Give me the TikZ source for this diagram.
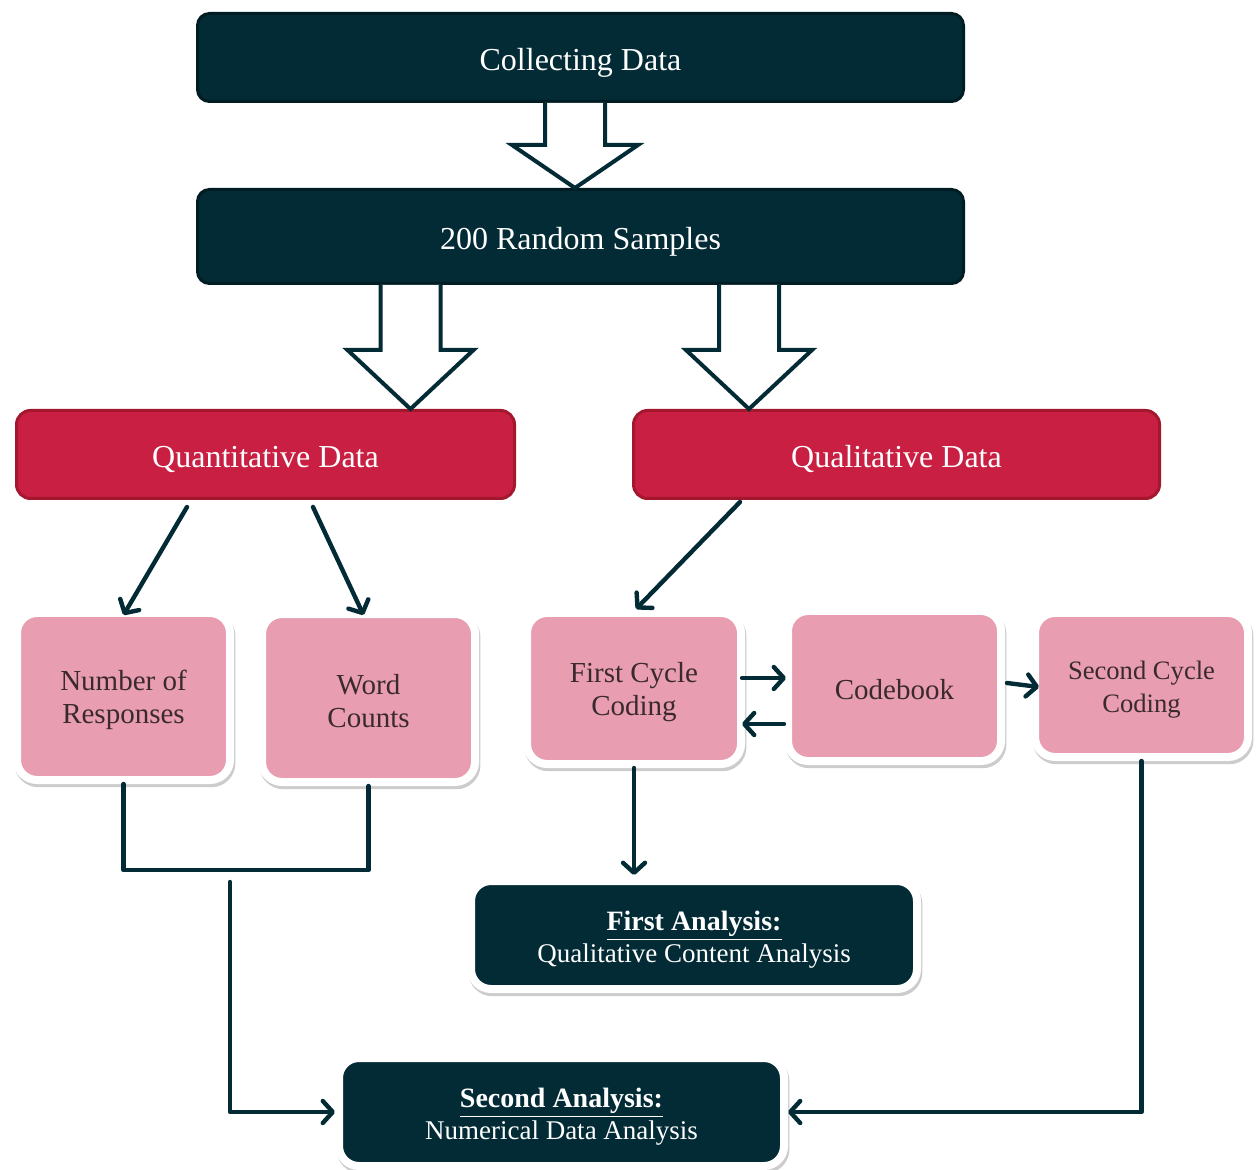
\documentclass[tikz,border=0pt]{standalone}
\usepackage{fontspec}
\setmainfont{Liberation Serif}
\usetikzlibrary{arrows.meta,calc}
\definecolor{dteal}{HTML}{032B36}
\definecolor{dteal2}{HTML}{011D24}
\definecolor{crim}{HTML}{C81F42}
\definecolor{crim2}{HTML}{A3182F}
\definecolor{pinkb}{HTML}{E89DB0}
\definecolor{ptext}{HTML}{3A2A2F}
\newcommand\myblockarrow[3]{\draw[barrow] ($(#1)+(-30,0)$) -- ++(0,#2) -- ++(-33,0) -- ($(#1)+(0,#3)$) -- ($(#1)+(63,#2)$) -- ++(-33,0) -- ($(#1)+(30,0)$);}
\newcommand\mypstrut{\rule{0pt}{13.5pt}}
\newcommand\myastrut{\rule{0pt}{14.6pt}}
\begin{document}
\begin{tikzpicture}[x=0.5pt,y=-0.5pt,
  hdr/.style={fill=dteal, draw=dteal2, line width=1.5pt, rounded corners=6pt, text=white, font=\fontsize{16}{19}\selectfont, inner sep=0pt, execute at begin node={\rule{0pt}{16pt}}},
  redbox/.style={fill=crim, draw=crim2, line width=1.5pt, rounded corners=7pt, text=white, font=\fontsize{16}{19}\selectfont, inner sep=0pt, execute at begin node={\rule{0pt}{16pt}}},
  pinkbox/.style={fill=pinkb, draw=white, line width=4pt, rounded corners=10pt, text=ptext, align=center, inner sep=0pt,
    font=\fontsize{14.5}{16.5}\selectfont,
    preaction={draw=black!20, fill=black!20, line width=4pt, transform canvas={xshift=0.7pt,yshift=-1.6pt}}},
  anal/.style={pinkbox, fill=dteal, text=white, font=\fontsize{13.5}{16}\selectfont},
  barrow/.style={draw=dteal, fill=white, line width=2pt, line join=miter},
  conn/.style={draw=dteal, line width=2.2pt, line cap=round, line join=round, -{Straight Barb[round,length=5pt,width=11pt]}},
  lin/.style={draw=dteal, line width=2.2pt, line cap=round, line join=round}]
\useasboundingbox (0,0) rectangle (1258,1170);
\fill[white] (0,0) rectangle (1258,1170);

% header boxes
\node[hdr, minimum width=383pt, minimum height=44pt] (cd) at (580.5,57.5) {Collecting Data};
\node[hdr, minimum width=383pt, minimum height=47pt] (rs) at (580.5,236.5) {200 Random Samples};
\node[redbox, minimum width=249pt, minimum height=44pt] (quant) at (265.5,454.5) {Quantitative Data};
\node[redbox, minimum width=263pt, minimum height=44pt] (qual) at (896.5,454.5) {Qualitative Data};

% pink boxes
\node[pinkbox, minimum width=106.5pt, minimum height=83.5pt] (nr) at (123.5,696.5) {\mypstrut Number of\\Responses};
\node[pinkbox, minimum width=106.5pt, minimum height=84pt] (wc) at (368.5,698) {\mypstrut Word\\Counts};
\node[pinkbox, minimum width=107pt, minimum height=75.5pt] (fcc) at (634,688.5) {\mypstrut First Cycle\\Coding};
\node[pinkbox, minimum width=106.5pt, minimum height=75pt] (cb) at (894.5,686) {\mypstrut Codebook};
\node[pinkbox, minimum width=106.5pt, minimum height=72pt, font=\fontsize{13.3}{16.5}\selectfont] (scc) at (1141.5,685) {\mypstrut Second Cycle\\Coding};

% analysis boxes
\node[anal, minimum width=223pt, minimum height=54pt] (fa) at (694,935) {\myastrut\underline{\textbf{\fontsize{14}{16}\selectfont First Analysis:}}\\Qualitative Content Analysis};
\node[anal, minimum width=222.5pt, minimum height=54pt] (sa) at (561.5,1112) {\myastrut\underline{\textbf{\fontsize{14}{16}\selectfont Second Analysis:}}\\Numerical Data Analysis};

% block arrows
\coordinate (b1) at ($(cd.south)+(-5.5,0)$);
\coordinate (b2) at ($(rs.south)+(-170,0)$);
\coordinate (b3) at ($(rs.south)+(168.5,0)$);
\myblockarrow{b1}{42}{85}
\myblockarrow{b2}{65}{124}
\myblockarrow{b3}{65}{124}

% connectors
\draw[conn] ($(quant.south)+(-78.5,7)$) -- ($(nr.north)+(0,6)$);
\draw[conn] ($(quant.south)+(47.5,7)$) -- ($(wc.north)+(-5,5)$);
\draw[conn] ($(qual.south)+(-156.5,2)$) -- ($(fcc.north)+(2,0)$);
\coordinate (a1) at ($(fcc.east)+(-3,-10.5)$);
\draw[conn] (a1) -- ($(a1 -| cb.west)+(2,0)$);
\coordinate (a2) at ($(cb.west)+(0,38)$);
\draw[conn] (a2) -- ($(a2 -| fcc.east)+(-3,0)$);
\draw[conn] ($(cb.east)+(2,-3)$) -- ($(scc.west)+(8,2)$);
\draw[conn] (fcc.south) -- ($(fcc.south |- fa.north)+(0,-2)$);
\coordinate (jn) at (246,870);
\draw[lin] (nr.south) |- (jn) -| (wc.south);
\coordinate (qs) at (230,882);
\draw[conn] (qs) |- (sa.west);
\draw[conn] (scc.south) |- (sa.east);
\end{tikzpicture}
\end{document}
